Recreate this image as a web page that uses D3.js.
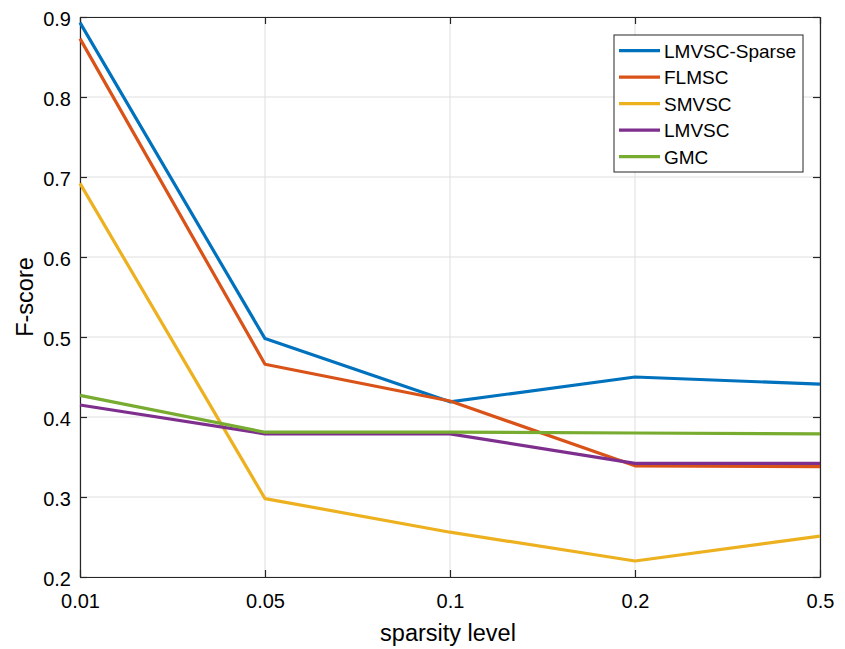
<!DOCTYPE html>
<html lang="en">
  <head>
    <meta charset="UTF-8" />
    <title>F-score vs sparsity level</title>
    <style>
      body {
        margin: 0;
        background: #fff;
      }
      text {
        font-family: "Liberation Sans", Arial, sans-serif;
        fill: #000;
      }
      .grid line {
        stroke: #dfdfdf;
        stroke-width: 1px;
      }
      .series {
        fill: none;
        stroke-width: 3.2px;
        stroke-linejoin: round;
      }
    </style>
  </head>
  <body>
    <svg width="845" height="649"></svg>
    <script src="https://cdnjs.cloudflare.com/ajax/libs/d3/7.8.5/d3.min.js"></script>
    <script>
      // sparsity levels (categorical x axis)
      const levels = ["0.01", "0.05", "0.1", "0.2", "0.5"];
      const yTicks = [0.2, 0.3, 0.4, 0.5, 0.6, 0.7, 0.8, 0.9];

      const seriesNames = ["LMVSC-Sparse", "FLMSC", "SMVSC", "LMVSC", "GMC"];
      const seriesColors = ["#0072bd", "#d95319", "#edb120", "#7e2f8e", "#77ac30"];

      const lmvscSparse = [0.893, 0.498, 0.419, 0.45, 0.441];
      const flmsc = [0.873, 0.466, 0.42, 0.339, 0.338];
      const smvsc = [0.692, 0.298, 0.256, 0.22, 0.251];
      const lmvsc = [0.415, 0.379, 0.379, 0.342, 0.342];
      const gmc = [0.427, 0.381, 0.381, 0.38, 0.379];

      const allSeries = [lmvscSparse, flmsc, smvsc, lmvsc, gmc];

      const svg = d3.select("svg");
      const plotL = 80, plotR = 820, plotT = 17, plotB = 577;

      const x = d3.scalePoint().domain(levels).range([plotL, plotR]);
      const y = d3.scaleLinear().domain([0.2, 0.9]).range([plotB, plotT]);

      // grid
      const grid = svg.append("g").attr("class", "grid");
      grid.selectAll(".gx").data(levels).enter().append("line")
        .attr("x1", d => x(d)).attr("x2", d => x(d))
        .attr("y1", plotT).attr("y2", plotB);
      grid.selectAll(".gy").data(yTicks).enter().append("line")
        .attr("x1", plotL).attr("x2", plotR)
        .attr("y1", d => y(d)).attr("y2", d => y(d));

      // axes (ticks inward, MATLAB box style)
      const axisColor = "#262626";
      function styleAxis(g, showText) {
        g.select(".domain").attr("stroke", axisColor).attr("stroke-width", 1.2);
        g.selectAll(".tick line").attr("stroke", axisColor).attr("stroke-width", 1.2);
        g.selectAll(".tick text")
          .style("font-size", "20px")
          .attr("fill", "#000")
          .style("display", showText ? null : "none");
      }

      const xAxis = svg.append("g").attr("transform", `translate(0,${plotB})`)
        .call(d3.axisBottom(x).tickSize(-7).tickSizeOuter(0).tickPadding(17));
      styleAxis(xAxis, true);

      const xTop = svg.append("g").attr("transform", `translate(0,${plotT})`)
        .call(d3.axisTop(x).tickSize(-7).tickSizeOuter(0));
      styleAxis(xTop, false);

      const yAxis = svg.append("g").attr("transform", `translate(${plotL},0)`)
        .call(d3.axisLeft(y).tickValues(yTicks).tickFormat(d3.format(".1f"))
          .tickSize(-7).tickSizeOuter(0).tickPadding(9));
      styleAxis(yAxis, true);
      yAxis.selectAll(".tick text").attr("dy", "0.42em");

      const yRight = svg.append("g").attr("transform", `translate(${plotR},0)`)
        .call(d3.axisRight(y).tickValues(yTicks).tickSize(-7).tickSizeOuter(0));
      styleAxis(yRight, false);

      // lines
      const line = d3.line().x((d, i) => x(levels[i])).y(d => y(d));
      svg.selectAll(".series").data(allSeries).enter().append("path")
        .attr("class", "series")
        .attr("d", line)
        .attr("stroke", (d, i) => seriesColors[i]);

      // axis labels
      svg.append("text")
        .attr("x", (plotL + plotR) / 2 - 2).attr("y", 641)
        .attr("text-anchor", "middle")
        .style("font-size", "23.5px")
        .text("sparsity level");
      svg.append("text")
        .attr("transform", `translate(33,${(plotT + plotB) / 2}) rotate(-90)`)
        .attr("text-anchor", "middle")
        .style("font-size", "23.5px")
        .text("F-score");

      // legend
      const legend = svg.append("g");
      legend.append("rect")
        .attr("x", 614).attr("y", 35).attr("width", 189).attr("height", 137)
        .attr("fill", "#fff").attr("stroke", axisColor).attr("stroke-width", 1);
      const items = legend.selectAll(".item").data(seriesNames).enter().append("g")
        .attr("transform", (d, i) => `translate(0,${50.7 + i * 26.5})`);
      items.append("line")
        .attr("x1", 619).attr("x2", 660)
        .attr("stroke", (d, i) => seriesColors[i]).attr("stroke-width", 3.2);
      items.append("text")
        .attr("x", 664).attr("dy", "0.36em")
        .style("font-size", "19px")
        .text(d => d);
    </script>
  </body>
</html>
